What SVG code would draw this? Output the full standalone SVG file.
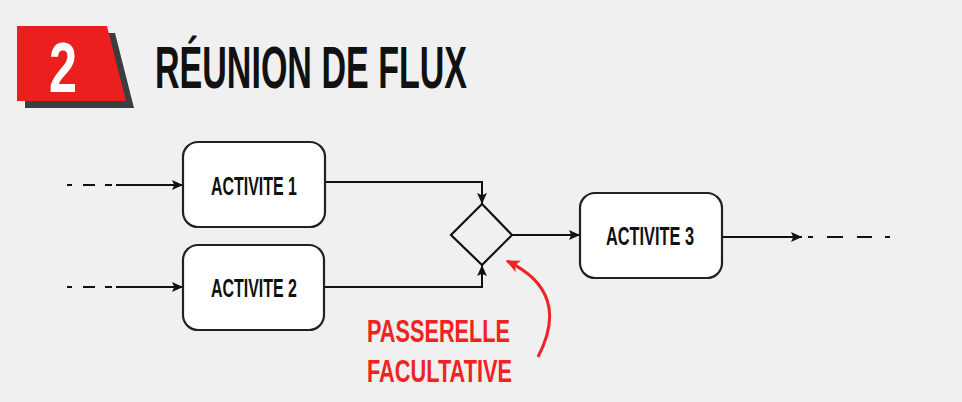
<svg xmlns="http://www.w3.org/2000/svg" width="962" height="402" viewBox="0 0 962 402">
<defs>
<style>
.bg{fill:#f0f0f0}
.box{fill:#ffffff;stroke:#222;stroke-width:2.2}
.lbl{font-family:"Liberation Sans",Arial,sans-serif;font-weight:bold;font-size:26px;fill:#111;text-anchor:middle}
.ttl{font-family:"Liberation Sans",Arial,sans-serif;font-weight:bold}
.ln{fill:none;stroke:#111;stroke-width:2}
.red{font-family:"Liberation Sans",Arial,sans-serif;font-weight:bold;font-size:31px;fill:#f02222}
</style>
<marker id="ah" viewBox="0 0 10 10" refX="10" refY="5" markerWidth="11" markerHeight="11" markerUnits="userSpaceOnUse" orient="auto">
<path d="M0,0.5 L10,5 L0,9.5 L2,5 Z" fill="#111"/>
</marker>
<marker id="ahr" viewBox="0 0 10 10" refX="9" refY="5" markerWidth="14" markerHeight="14" markerUnits="userSpaceOnUse" orient="auto">
<path d="M0,0.5 L10,5 L0,9.5 L2.5,5 Z" fill="#f02222"/>
</marker>
</defs>
<rect class="bg" x="0" y="0" width="962" height="402"/>
<g id="header">
<polygon points="25,33 115,33 134,108 25,108" fill="#3a3d42"/>
<polygon points="17,26 107,26 126,101 17,101" fill="#ec1f1f"/>
<text class="ttl" x="63" y="92" font-size="70" fill="#fff" text-anchor="middle" textLength="28" lengthAdjust="spacingAndGlyphs">2</text>
<text class="ttl" x="155" y="88" font-size="60" fill="#111" textLength="312" lengthAdjust="spacingAndGlyphs">RÉUNION DE FLUX</text>
</g>
<g id="connectors">
<path class="ln" d="M67,185 H117" stroke-dasharray="5 11 12 10 7 5"/>
<path class="ln" d="M116,185 H183" marker-end="url(#ah)"/>
<path class="ln" d="M67,287 H117" stroke-dasharray="5 11 12 10 7 5"/>
<path class="ln" d="M116,287 H183" marker-end="url(#ah)"/>
<path class="ln" d="M325,182 H482 V204" marker-end="url(#ah)"/>
<path class="ln" d="M324,287 H482 V265" marker-end="url(#ah)"/>
<path class="ln" d="M512,235 H580" marker-end="url(#ah)"/>
<path class="ln" d="M722,237 H802" marker-end="url(#ah)"/>
<path class="ln" d="M808,237 H890" stroke-dasharray="5 14 16 14 15 13 5"/>
<path d="M538,357 Q572,292 507,261" fill="none" stroke="#f02222" stroke-width="3" marker-end="url(#ahr)"/>
</g>
<g id="activite1">
<rect class="box" x="183" y="142" width="142" height="85" rx="15"/>
<text class="lbl" x="254" y="195" textLength="86" lengthAdjust="spacingAndGlyphs">ACTIVITE 1</text>
</g>
<g id="activite2">
<rect class="box" x="183" y="245" width="141" height="85" rx="15"/>
<text class="lbl" x="254" y="297" textLength="86" lengthAdjust="spacingAndGlyphs">ACTIVITE 2</text>
</g>
<g id="passerelle">
<polygon points="482,204 512,235 482,265 451,235" fill="none" stroke="#111" stroke-width="2.2"/>
</g>
<g id="activite3">
<rect class="box" x="580" y="193" width="142" height="85" rx="15"/>
<text class="lbl" x="650" y="245" textLength="88" lengthAdjust="spacingAndGlyphs">ACTIVITE 3</text>
</g>
<g id="note">
<text class="red" x="367" y="342" textLength="143" lengthAdjust="spacingAndGlyphs">PASSERELLE</text>
<text class="red" x="367" y="382" textLength="145" lengthAdjust="spacingAndGlyphs">FACULTATIVE</text>
</g>
</svg>
